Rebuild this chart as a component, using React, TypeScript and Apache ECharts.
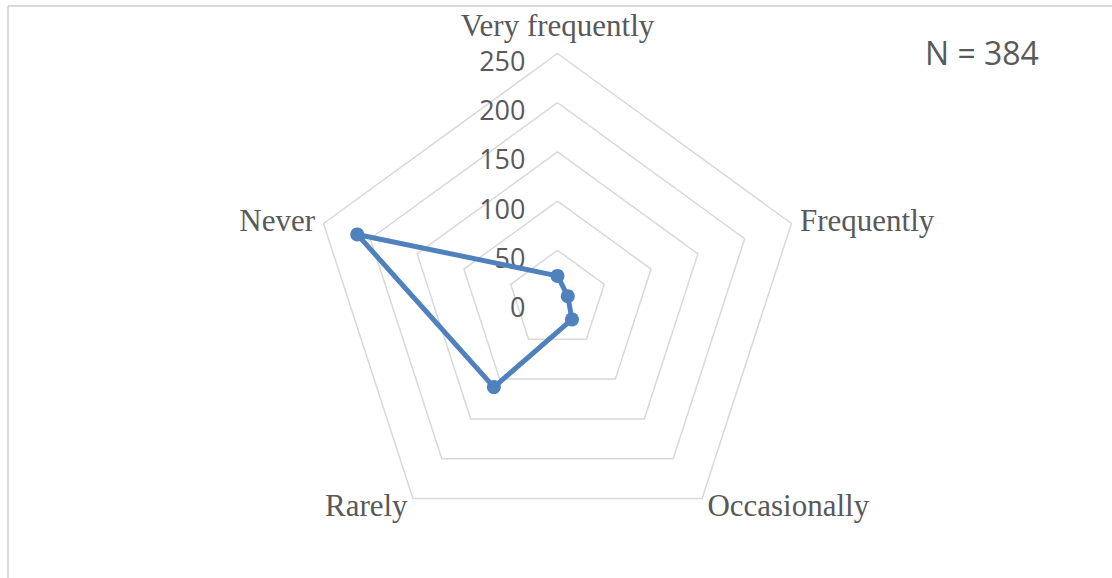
import React, { useEffect, useRef } from "react";
import * as echarts from "echarts";

// Frequency categories, listed clockwise from the top spoke
const categories = ["Very frequently", "Frequently", "Occasionally", "Rarely", "Never"];
const responses = [24, 11, 25, 110, 214];
const scaleMax = 250;
const scaleStep = 50;
const sampleNote = "N = 384";

const GRID = "#d9d9d9";
const TEXT = "#595959";
const LINE = "#4f81bd";

export default function App() {
  const ref = useRef<HTMLDivElement>(null);

  useEffect(() => {
    if (!ref.current) return;
    const chart = echarts.init(ref.current, null, { renderer: "svg" });

    // ECharts lays radar spokes out counter-clockwise, so keep the first
    // category on top and reverse the rest to run them clockwise.
    const order = [0, ...categories.slice(1).map((_, i) => categories.length - 1 - i)];
    const indicator = order.map((idx, k) => ({
      name: categories[idx],
      min: 0,
      max: scaleMax,
      axisLabel: k === 0
        ? {
            show: true,
            margin: 32,
            formatter: "{v|{value}}",
            rich: {
              v: {
                fontFamily: "Open Sans",
                fontSize: 27,
                color: TEXT,
                padding: [14, 0, 0, 0],
              },
            },
          }
        : { show: false },
    }));
    const values = order.map((idx) => responses[idx]);

    const nameFont = { color: TEXT, fontFamily: "Liberation Serif", fontSize: 31 };

    chart.setOption({
      animation: false,
      backgroundColor: "#ffffff",
      graphic: [
        { type: "line", shape: { x1: 8, y1: 6, x2: 1112, y2: 6 }, style: { stroke: GRID, lineWidth: 2 } },
        { type: "line", shape: { x1: 8, y1: 6, x2: 8, y2: 578 }, style: { stroke: GRID, lineWidth: 2 } },
        {
          type: "text",
          left: 925,
          top: 36,
          style: {
            text: sampleNote,
            fontFamily: "Open Sans",
            fontSize: 32,
            fill: TEXT,
          },
        },
      ],
      radar: {
        center: [557.5, 299.5],
        radius: 246,
        shape: "polygon",
        splitNumber: scaleMax / scaleStep,
        indicator,
        nameGap: 9,
        axisName: {
          ...nameFont,
          // lift the top spoke's name a little further off the scale labels
          formatter: (name: string) =>
            name === categories[0] ? `{top|${name}}` : `{n|${name}}`,
          rich: {
            top: { ...nameFont, padding: [0, 0, 4, 0] },
            n: { ...nameFont },
          },
        },
        axisLine: { show: false },
        axisTick: { show: false },
        axisLabel: { show: false },
        splitArea: { show: false },
        splitLine: { lineStyle: { color: GRID, width: 1.5 } },
      },
      series: [
        {
          type: "radar",
          symbol: "circle",
          symbolSize: 14,
          lineStyle: { color: LINE, width: 5 },
          itemStyle: { color: LINE },
          data: [{ value: values, name: "Responses" }],
        },
      ],
    });

    return () => chart.dispose();
  }, []);

  return (
    <div
      ref={ref}
      style={{ position: "absolute", left: 0, top: 0, width: 1112, height: 578 }}
    />
  );
}
